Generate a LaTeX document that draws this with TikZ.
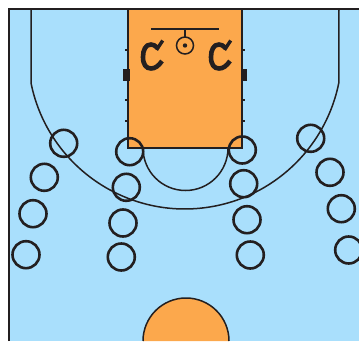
\documentclass[tikz,border=0pt]{standalone}
\usepackage{xcolor}
\definecolor{CourtBlue}{HTML}{A9DFFC}
\definecolor{LaneOrange}{HTML}{FCA84C}
\definecolor{LineDark}{HTML}{231F20}
\begin{document}
\begin{tikzpicture}[
  x=1pt, y=1pt,
  court/.style={color=LineDark, line width=1.5pt},
  edge/.style={color=LineDark, line width=2pt},
  player/.style={circle, draw=LineDark, line width=2.6pt, minimum size=27pt, inner sep=0pt},
  coach/.style={color=LineDark, line width=4.6pt}
]
  \useasboundingbox (0,0) rectangle (359,341);
  % floor and lane
  \fill[CourtBlue] (9,0) rectangle (359,332);
  \draw[edge] (9,0) -- (9,332) -- (359,332);
  \draw[edge, fill=LaneOrange] (128,332) rectangle (242,193);
  \fill[LaneOrange] (143,0) arc (180:0:43) -- cycle;
  \draw[court] (143,0) arc (180:0:43);
  % arcs
  \draw[court] (31,332) -- (31,258) arc (191.4:348.6:157) -- (339,332);
  \draw[court] (143,193) arc (180:360:42.5);
  % lane marks
  \foreach \ypos in {291,241,220} {
    \draw[court, line width=1.1pt] (125,\ypos) -- (128,\ypos);
    \draw[court, line width=1.1pt] (242,\ypos) -- (245,\ypos);
  }
  \fill[LineDark] (123.3,260) rectangle (129.5,272);
  \fill[LineDark] (241,260) rectangle (247,272);
  % rim
  \draw[court] (151,312) -- (219,312);
  \draw[court] (185,312) -- (185,304);
  \draw[court] (185,295.5) circle (8.5);
  \fill[LineDark] (185,295.5) circle (2.2);
  % coaches
  \foreach \xpos in {0,68} {
    \begin{scope}[xshift=\xpos]
      \draw[coach] (157,293.5) .. controls (155,295.5) and (153,296.5) .. (151,296.5)
        .. controls (145.5,296.5) and (143,291) .. (143,284)
        .. controls (143,276.5) and (146,272.5) .. (151,272.5)
        .. controls (155,272.5) and (158.5,275) .. (162,280);
      \draw[coach, line width=3.4pt] (162.7,300.5) -- (156.5,291);
    \end{scope}
  }
  % players
  \foreach \xpos/\ypos [count=\i] in {63.7/197.7, 44.3/163.7, 33/127.3, 26/86.3,
      129.7/189.3, 126.3/153.7, 123/118, 121.3/84,
      242.3/191, 243.7/157.3, 247/121.3, 250.3/86,
      310.7/202.7, 330/168.7, 341.3/132.3, 348.7/91}
    \node[player] (p\i) at (\xpos,\ypos) {};
\end{tikzpicture}
\end{document}
